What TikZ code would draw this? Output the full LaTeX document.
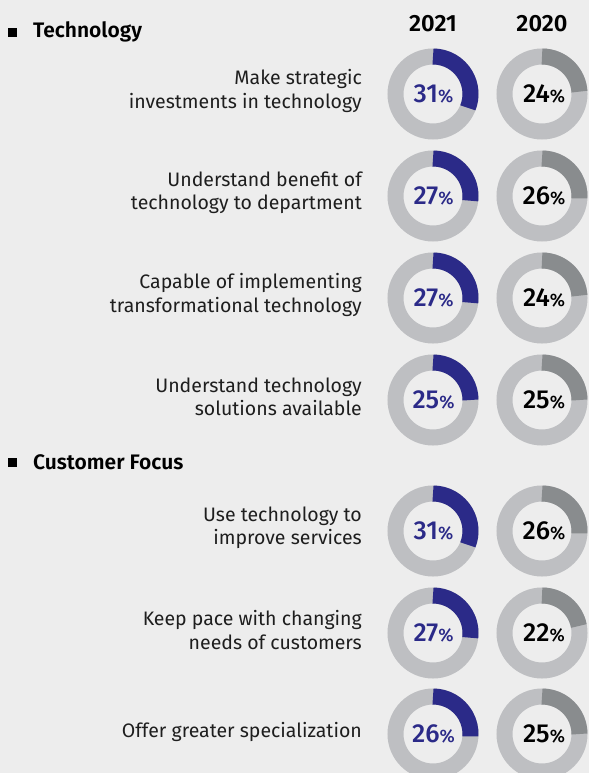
\documentclass[tikz,border=0pt]{standalone}
\usepackage{fontspec}
\setmainfont{Fira Sans}
\newfontfamily\firasb{Fira Sans SemiBold}
\newfontfamily\firamd{Fira Sans Medium}
\definecolor{bg}{HTML}{EDEDED}
\definecolor{ringgray}{HTML}{BEBFC2}
\definecolor{navy}{HTML}{2B2A88}
\definecolor{dgray}{HTML}{898C8E}
\definecolor{txt}{HTML}{1E1E1E}
\tikzset{
  lbl/.style={anchor=east, align=right, inner sep=0pt, text=txt, font=\fontsize{19.5}{23.5}\selectfont},
  head/.style={anchor=west, inner sep=0pt, text=black, font=\firasb\fontsize{21}{24}\selectfont},
  year/.style={inner sep=0pt, text=black, font=\firasb\fontsize{23.5}{26}\selectfont},
  bullet/.style={fill=black, minimum width=9pt, minimum height=9pt, inner sep=0pt},
  ringbase/.style={draw=ringgray, line width=16pt},
  arcA/.style={draw=navy, line width=16pt},
  arcB/.style={draw=dgray, line width=16pt},
  pctA/.style={inner sep=0pt, text=navy, font=\firamd\fontsize{26}{27}\selectfont},
  pctB/.style={inner sep=0pt, text=black, font=\firamd\fontsize{26}{27}\selectfont},
}
\newcommand\pcsign{{\fontsize{18}{19}\selectfont\%}}
\begin{document}
\begin{tikzpicture}[x=1pt,y=-1pt]
\fill[bg] (0,0) rectangle (589,773);
\useasboundingbox (0,0) rectangle (589,773);

\node[bullet] (b1) at (12,33) {};
\node[head] (h1) at (33,32) {Technology};
\node[year] (y21) at (433,24) {2021};
\node[year] (y20) at (542,24) {2020};

\node[bullet] (b2) at (12,462) {};
\node[head] (h2) at (33,462) {Customer Focus};

\foreach \y/\dy/\lab/\a/\b/\n in {
  94/3/{Make strategic\\investments in technology}/31/24/r1,
  196/3/{Understand benefit of\\technology to department}/27/26/r2,
  298/3/{Capable of implementing\\transformational technology}/27/24/r3,
  400/3/{Understand technology\\solutions available}/25/25/r4,
  531/3/{Use technology to\\improve services}/31/26/r5,
  633/3/{Keep pace with changing\\needs of customers}/27/22/r6,
  734/2/{Offer greater specialization}/26/25/r7}
{
  \node[lbl] (lab\n) at (362,\y-\dy) {\lab};
  \draw[ringbase] (433,\y) circle[radius=37.5];
  \draw[arcA] (433,\y) ++(0,-37.5) arc[start angle=-90, delta angle=\a*3.6, radius=37.5];
  \node[pctA] (pa\n) at (433.5,\y) {\a\pcsign};
  \draw[ringbase] (542,\y) circle[radius=37.5];
  \draw[arcB] (542,\y) ++(0,-37.5) arc[start angle=-90, delta angle=\b*3.6, radius=37.5];
  \node[pctB] (pb\n) at (544,\y) {\b\pcsign};
}
\end{tikzpicture}
\end{document}
